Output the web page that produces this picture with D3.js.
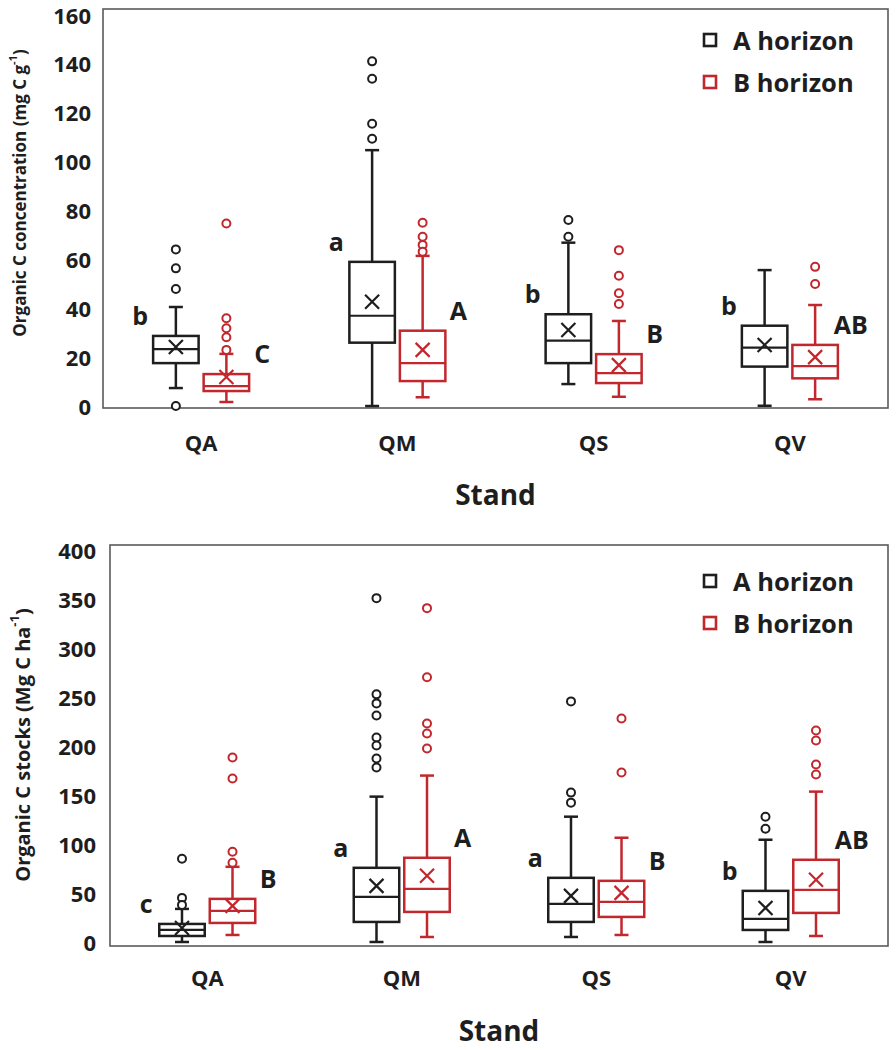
<!DOCTYPE html>
<html>
<head>
<meta charset="utf-8">
<script src="https://cdn.jsdelivr.net/npm/d3@7"></script>
<style>
  html, body { margin: 0; padding: 0; background: #fff; }
  svg { display: block; }
  text { font-family: "Open Sans", "Noto Sans", sans-serif; font-weight: 700; fill: #1e1e1e; }
</style>
</head>
<body>
<svg id="chart" width="896" height="1050"></svg>
<script>
// ---------- DATA ----------
const categories = ["QA", "QM", "QS", "QV"];
const seriesNames = ["A horizon", "B horizon"];

const concTicks = [0, 20, 40, 60, 80, 100, 120, 140, 160];
const stockTicks = [0, 50, 100, 150, 200, 250, 300, 350, 400];

// Organic C concentration (mg C g-1)
const concA_low    = [8, 0.8, 9.6, 0.9];
const concA_q1     = [18, 26.2, 18, 16.6];
const concA_median = [23.6, 37, 27, 24.2];
const concA_q3     = [28.9, 58.6, 37.6, 33];
const concA_high   = [40.5, 103.4, 66.3, 55.3];
const concA_mean   = [24.5, 42.6, 31.3, 25.3];
const concA_out    = [[63.6, 56, 47.7, 0.8], [139, 132, 114, 108], [75.4, 68.7], []];

const concB_low    = [2.4, 4.3, 4.5, 3.5];
const concB_q1     = [6.8, 10.8, 10, 11.9];
const concB_median = [8.8, 18, 14, 16.8];
const concB_q3     = [13.6, 31, 21.6, 25.3];
const concB_high   = [21.7, 61, 34.9, 41.3];
const concB_mean   = [12.4, 23.3, 17.2, 20.4];
const concB_out    = [[74, 36, 32, 28.4, 23.3], [74.3, 68.7, 65.4, 62.7], [63.3, 53, 46, 41.7], [56.6, 49.7]];

const concLettersA = ["b", "a", "b", "b"];
const concLettersB = ["C", "A", "B", "AB"];

// Organic C stocks (Mg C ha-1)
const stockA_low    = [4, 4, 9, 4];
const stockA_q1     = [10, 24, 24, 16];
const stockA_median = [16, 49, 42, 27];
const stockA_q3     = [22, 78, 68, 55];
const stockA_high   = [37, 149, 129, 106];
const stockA_mean   = [18, 60, 50, 38];
const stockA_out    = [[87, 48, 41], [347, 251, 242, 230, 208, 200, 187, 178], [244, 153, 143], [129, 117]];

const stockB_low    = [11, 9, 11, 10];
const stockB_q1     = [23, 34, 29, 33];
const stockB_median = [35, 57, 44, 56];
const stockB_q3     = [47, 88, 65, 86];
const stockB_high   = [79, 170, 108, 154];
const stockB_mean   = [40, 70, 53, 66];
const stockB_out    = [[188, 167, 94, 83], [337, 268, 222, 212, 197], [227, 173], [215, 205, 181, 171]];

const stockLettersA = ["c", "a", "a", "b"];
const stockLettersB = ["B", "A", "B", "AB"];

// ---------- DRAWING ----------
const colors = { "A horizon": "#1e1e1e", "B horizon": "#c1272d" };
const svg = d3.select("#chart");

function buildSeries(low, q1, med, q3, high, mean, out) {
  return categories.map((c, i) => ({
    cat: c, low: low[i], q1: q1[i], med: med[i], q3: q3[i], high: high[i], mean: mean[i], out: out[i]
  }));
}

function drawPanel(cfg) {
  const g = svg.append("g");
  const x = d3.scaleBand().domain(categories).range([cfg.left, cfg.right]);
  const dom = [cfg.ticks[0], cfg.ticks[cfg.ticks.length - 1]];
  const y = d3.scaleLinear().domain(dom).range([cfg.bottom, cfg.top]);
  // tick labels sit slightly inside the frame, as in the original figure
  const yLab = d3.scaleLinear().domain(dom).range(cfg.labelRange);
  const bw = x.bandwidth();
  const xs = d3.scaleBand().domain(seriesNames).range([bw / 2 - 49, bw / 2 + 49]).paddingInner(0.06);
  const boxW = xs.bandwidth();

  // frame
  g.append("rect")
    .attr("x", cfg.left).attr("y", cfg.top)
    .attr("width", cfg.right - cfg.left).attr("height", cfg.bottom - cfg.top)
    .attr("fill", "none").attr("stroke", "#5a5a5a").attr("stroke-width", 1.6);

  // y axis
  const yAxis = d3.axisLeft(yLab).tickValues(cfg.ticks).tickSize(0).tickPadding(0).tickFormat(d3.format("d"));
  const ya = g.append("g").attr("transform", `translate(${cfg.tickX},0)`).call(yAxis);
  ya.select(".domain").remove();
  ya.selectAll("text").attr("font-size", 22).attr("font-family", "'Open Sans', sans-serif").attr("font-weight", 700).attr("fill", "#1e1e1e");

  // x axis labels
  const xAxis = d3.axisBottom(x).tickSize(0).tickPadding(0);
  const xa = g.append("g").attr("transform", `translate(0,${cfg.catY})`).call(xAxis);
  xa.select(".domain").remove();
  xa.selectAll("text").attr("font-size", 22).attr("font-family", "'Open Sans', sans-serif").attr("font-weight", 700).attr("fill", "#1e1e1e").attr("dy", "0.35em");

  // axis titles
  g.append("text").attr("x", (cfg.left + cfg.right) / 2).attr("y", cfg.standY)
    .attr("text-anchor", "middle").attr("dominant-baseline", "central").attr("font-size", 28).text("Stand");

  const yt = g.append("text")
    .attr("transform", `translate(${cfg.titleX},${cfg.titleY}) rotate(-90)`)
    .attr("text-anchor", "middle").attr("dominant-baseline", "central").attr("font-size", cfg.titleSize);
  yt.append("tspan").text(cfg.titlePre);
  yt.append("tspan").attr("font-size", cfg.titleSize * 0.65).attr("dy", -cfg.titleSize * 0.4).text("-1");
  yt.append("tspan").attr("dy", cfg.titleSize * 0.4).text(")");

  // boxes
  cfg.series.forEach(s => {
    const col = colors[s.name];
    const grp = g.append("g").selectAll("g").data(s.data).join("g")
      .attr("transform", d => `translate(${x(d.cat) + xs(s.name) + boxW / 2},0)`);

    // whiskers
    grp.append("line").attr("x1", 0).attr("x2", 0).attr("y1", d => y(d.q3)).attr("y2", d => y(d.high))
      .attr("stroke", col).attr("stroke-width", 2.5);
    grp.append("line").attr("x1", 0).attr("x2", 0).attr("y1", d => y(d.q1)).attr("y2", d => y(d.low))
      .attr("stroke", col).attr("stroke-width", 2.5);
    grp.append("line").attr("x1", -7).attr("x2", 7).attr("y1", d => y(d.high)).attr("y2", d => y(d.high))
      .attr("stroke", col).attr("stroke-width", 2.5);
    grp.append("line").attr("x1", -7).attr("x2", 7).attr("y1", d => y(d.low)).attr("y2", d => y(d.low))
      .attr("stroke", col).attr("stroke-width", 2.5);
    // box
    grp.append("rect").attr("x", -boxW / 2 + 1).attr("width", boxW - 2)
      .attr("y", d => y(d.q3)).attr("height", d => y(d.q1) - y(d.q3))
      .attr("fill", "#fff").attr("stroke", col).attr("stroke-width", 2.5);
    // median
    grp.append("line").attr("x1", -boxW / 2 + 1).attr("x2", boxW / 2 - 1)
      .attr("y1", d => y(d.med)).attr("y2", d => y(d.med))
      .attr("stroke", col).attr("stroke-width", 2.2);
    // mean X
    grp.append("path")
      .attr("d", d => { const cy = y(d.mean); return `M-7,${cy - 7}L7,${cy + 7}M-7,${cy + 7}L7,${cy - 7}`; })
      .attr("stroke", col).attr("stroke-width", 2.2).attr("fill", "none");
    // outliers
    grp.selectAll("circle").data(d => d.out).join("circle")
      .attr("cx", 0).attr("cy", v => y(v)).attr("r", 4)
      .attr("fill", "#fff").attr("stroke", col).attr("stroke-width", 2);

    // significance letters
    grp.append("text")
      .attr("x", s.name === "A horizon" ? -boxW / 2 - 12 : boxW / 2 + 12)
      .attr("y", d => y(d.q3) - 21)
      .attr("text-anchor", "middle").attr("dominant-baseline", "central")
      .attr("font-size", 25)
      .text((d, i) => s.letters[i]);
  });

  // legend
  seriesNames.forEach((n, i) => {
    const ly = cfg.legendY[i];
    g.append("rect").attr("x", 704).attr("y", ly - 6).attr("width", 12).attr("height", 12)
      .attr("fill", "#fff").attr("stroke", colors[n]).attr("stroke-width", 2.6);
    g.append("text").attr("x", 733).attr("y", ly).attr("dominant-baseline", "central")
      .attr("font-size", 25.5).text(n);
  });
}

drawPanel({
  left: 103, right: 888, top: 9, bottom: 408,
  ticks: concTicks, tickX: 91, labelRange: [407, 16], catY: 443, standY: 494,
  titleX: 19, titleY: 193, titleSize: 17,
  titlePre: "Organic C concentration (mg C g",
  legendY: [40, 82],
  series: [
    { name: "A horizon", letters: concLettersA, data: buildSeries(concA_low, concA_q1, concA_median, concA_q3, concA_high, concA_mean, concA_out) },
    { name: "B horizon", letters: concLettersB, data: buildSeries(concB_low, concB_q1, concB_median, concB_q3, concB_high, concB_mean, concB_out) }
  ]
});

drawPanel({
  left: 110, right: 888, top: 545, bottom: 946,
  ticks: stockTicks, tickX: 96, labelRange: [943, 551], catY: 978, standY: 1030,
  titleX: 22, titleY: 745, titleSize: 20,
  titlePre: "Organic C stocks (Mg C ha",
  legendY: [581, 623],
  series: [
    { name: "A horizon", letters: stockLettersA, data: buildSeries(stockA_low, stockA_q1, stockA_median, stockA_q3, stockA_high, stockA_mean, stockA_out) },
    { name: "B horizon", letters: stockLettersB, data: buildSeries(stockB_low, stockB_q1, stockB_median, stockB_q3, stockB_high, stockB_mean, stockB_out) }
  ]
});
</script>
</body>
</html>
